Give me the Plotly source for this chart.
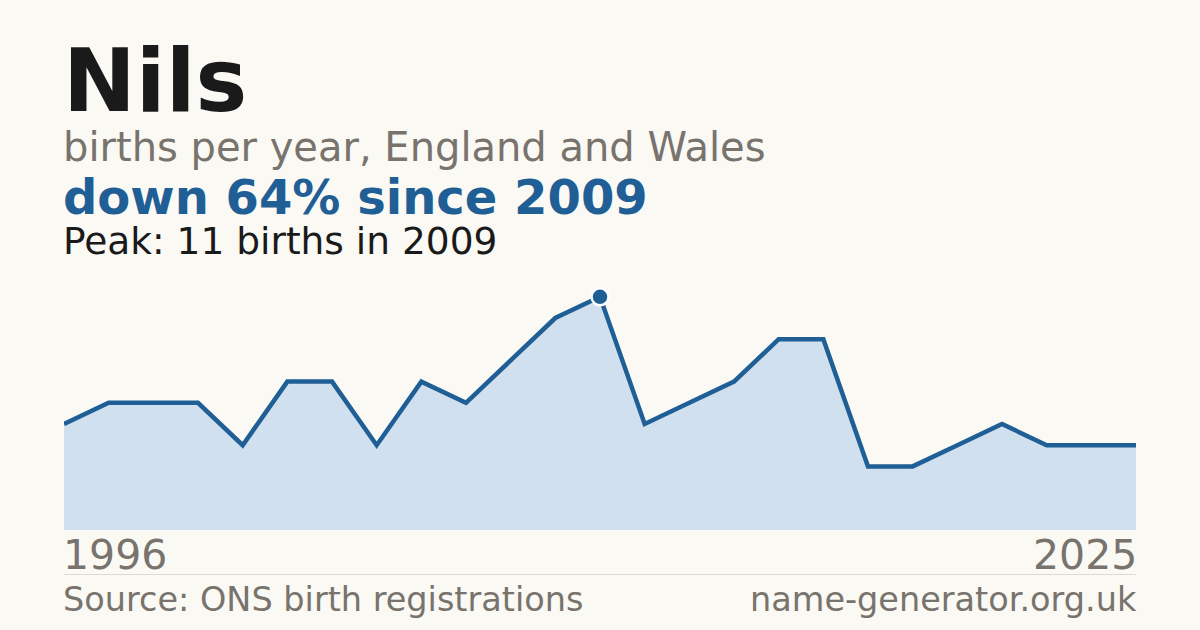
import plotly.graph_objects as go

# births per year for "Nils" (years with suppressed counts left out)
anni = [1996, 1997, 1998, 1999, 2000, 2001, 2003, 2004, 2005, 2006, 2007, 2008,
        2009, 2010, 2011, 2012, 2014, 2015, 2016, 2018, 2020, 2021, 2023, 2024, 2025]
nascite = [5, 6, 6, 6, 4, 7, 7, 4, 7, 6, 8, 10,
           11, 5, 6, 7, 9, 9, 3, 3, 4, 5, 4, 4, 4]

nome = "Nils"
sottotitolo = "births per year, England and Wales"
fonte = "Source: ONS birth registrations"
sito = "name-generator.org.uk"

W, H = 1200, 630
SFONDO = "#FAF9F4"
BLU = "#1F5F96"
GRIGIO = "#78736C"

def py(pixel):
    # pixel from top -> paper coordinate
    return 1 - pixel / H

def px_(pixel):
    return pixel / W

picco = max(nascite)
i_picco = nascite.index(picco)
anno_picco = anni[i_picco]
calo = round((1 - nascite[-1] / picco) * 100)

x_cat = [str(a) for a in anni]

fig = go.Figure()

fig.add_trace(go.Scatter(
    x=x_cat, y=nascite,
    mode="lines",
    line=dict(color=BLU, width=4.5),
    fill="tozeroy",
    fillcolor="#D0E0EF",
    hoverinfo="skip",
))

fig.add_trace(go.Scatter(
    x=[x_cat[i_picco]], y=[picco],
    mode="markers",
    marker=dict(size=17, color=BLU, line=dict(color="white", width=2.5)),
    hoverinfo="skip",
))

testi = [
    (nome, 81, 87, "#1A1A1A", True),
    (sottotitolo, 147, 40, GRIGIO, False),
    (f"down {calo}% since {anno_picco}", 197, 48, BLU, True),
    (f"Peak: {picco} births in {anno_picco}", 241, 37.5, "#1A1A1A", False),
]

SX, DX = 61, 1139  # annotation boxes carry a few px of padding

annots = []
for t, y, s, c, bold in testi:
    annots.append(dict(
        text=f"<b>{t}</b>" if bold else t,
        x=px_(SX), y=py(y), xref="paper", yref="paper",
        xanchor="left", yanchor="middle", showarrow=False,
        font=dict(size=s, color=c),
    ))

annots.append(dict(text=str(anni[0]), x=px_(SX), y=py(555), xref="paper", yref="paper",
                   xanchor="left", yanchor="middle", showarrow=False,
                   font=dict(size=41, color=GRIGIO)))
annots.append(dict(text=str(anni[-1]), x=px_(DX), y=py(555), xref="paper", yref="paper",
                   xanchor="right", yanchor="middle", showarrow=False,
                   font=dict(size=41, color=GRIGIO)))
annots.append(dict(text=fonte, x=px_(SX), y=py(599), xref="paper", yref="paper",
                   xanchor="left", yanchor="middle", showarrow=False,
                   font=dict(size=33.5, color=GRIGIO)))
annots.append(dict(text=sito, x=px_(DX), y=py(599), xref="paper", yref="paper",
                   xanchor="right", yanchor="middle", showarrow=False,
                   font=dict(size=33.5, color=GRIGIO)))

fig.update_layout(
    width=W, height=H,
    margin=dict(l=0, r=0, t=0, b=0),
    paper_bgcolor=SFONDO,
    plot_bgcolor=SFONDO,
    showlegend=False,
    font=dict(family="DejaVu Sans"),
    xaxis=dict(
        type="category",
        domain=[px_(64), px_(1136)],
        range=[0, len(anni) - 1],
        showgrid=False, zeroline=False, showticklabels=False, ticks="",
    ),
    yaxis=dict(
        domain=[py(530), py(280)],
        range=[0, 250 / 21.2],
        showgrid=False, zeroline=False, showticklabels=False, ticks="",
    ),
    annotations=annots,
    shapes=[dict(type="line", xref="paper", yref="paper",
                 x0=px_(64), x1=px_(1136), y0=py(574.5), y1=py(574.5),
                 line=dict(color="#DDDAD3", width=1))],
)

fig.write_html("out.html", config={"displayModeBar": False},
               post_script="document.body.style.margin='0';")
